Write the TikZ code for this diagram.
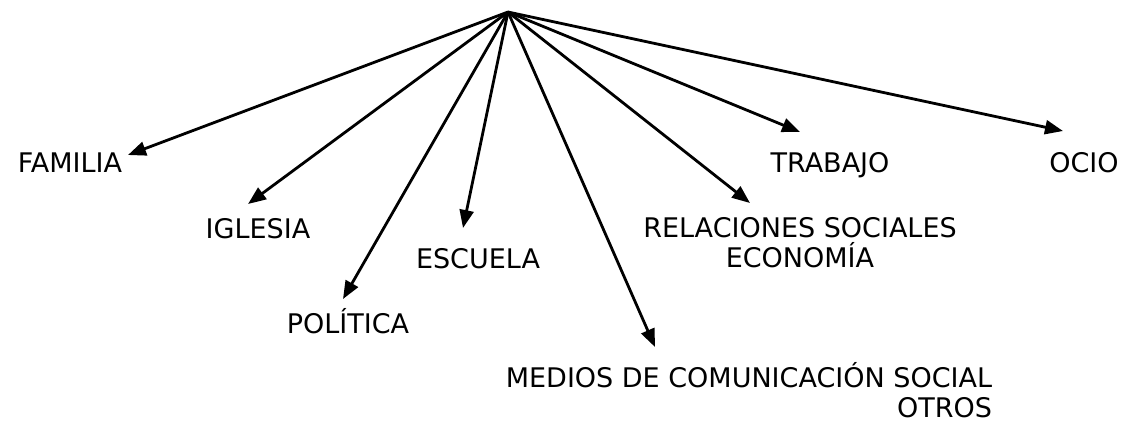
\documentclass[tikz,border=0pt]{standalone}
\usepackage{fontspec}
\setmainfont{DejaVu Sans}
\usetikzlibrary{arrows.meta, positioning}

\tikzset{
  rama/.style = {line width=2.8pt, -{Triangle[length=18pt, width=14pt]}},
  etiqueta/.style = {inner sep=0pt, anchor=base, font=\fontsize{27}{30}\selectfont}
}

\begin{document}
\begin{tikzpicture}[x=1pt, y=-1pt]
  \useasboundingbox (0,0) rectangle (1128,432);
  % raiz
  \coordinate (raiz) at (508,12);
  % etiquetas
  \node [etiqueta] (familia)  at (70,172)   {FAMILIA};
  \node [etiqueta] (iglesia)  at (258,238)  {IGLESIA};
  \node [etiqueta] (politica) at (348,333)  {POLÍTICA};
  \node [etiqueta] (escuela)  at (478,268)  {ESCUELA};
  \node [etiqueta] (trabajo)  at (830,172)  {TRABAJO};
  \node [etiqueta] (ocio)     at (1084,172) {OCIO};
  \node [etiqueta, align=center] (relaciones) at (800,267)
        {RELACIONES SOCIALES\\ECONOMÍA};
  \node [etiqueta, align=right] (medios) at (749,417)
        {MEDIOS DE COMUNICACIÓN SOCIAL\\OTROS};
  % puntas
  \coordinate (pfamilia)    at (128,155);
  \coordinate (piglesia)    at (248,204);
  \coordinate (ppolitica)   at (343,299);
  \coordinate (pescuela)    at (463,228);
  \coordinate (pmedios)     at (655,347);
  \coordinate (prelaciones) at (750,203);
  \coordinate (ptrabajo)    at (800,132);
  \coordinate (pocio)       at (1063,131);
  % flechas
  \foreach \p in {pfamilia, piglesia, ppolitica, pescuela,
                  pmedios, prelaciones, ptrabajo, pocio}
    \draw [rama] (raiz) -- (\p);
\end{tikzpicture}
\end{document}
